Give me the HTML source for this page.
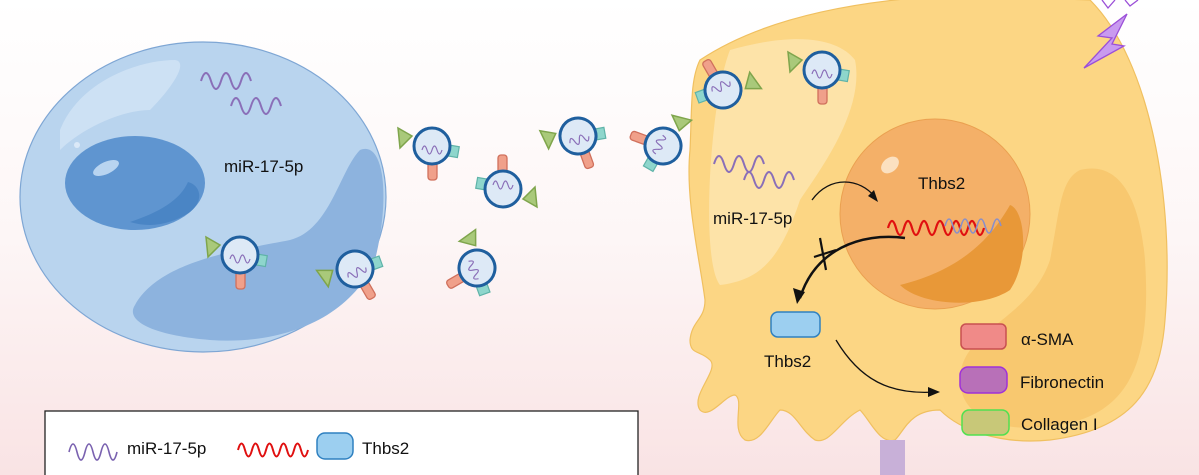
<!DOCTYPE html>
<html><head><meta charset="utf-8"><style>
html,body{margin:0;padding:0}
body{width:1199px;height:475px;overflow:hidden;background:linear-gradient(#ffffff 0%,#fdf6f6 50%,#f9e3e4 100%);font-family:"Liberation Sans",sans-serif}
svg{display:block}
text{font-family:"Liberation Sans",sans-serif;fill:#111}
</style></head><body>
<svg width="1199" height="475" viewBox="0 0 1199 475">
<defs>
<symbol id="ves" viewBox="-35 -35 70 70" overflow="visible">
<path d="M-20,-10 L-34,-18 L-32,2 Z" fill="#a9c97a" stroke="#7fa54c" stroke-width="1.5"/>
<rect x="15" y="-4" width="12" height="11" fill="#8ed6cc" stroke="#5fb3a8" stroke-width="1.2" transform="rotate(10)"/>
<rect x="-4" y="14" width="9" height="20" rx="3" fill="#f0a08a" stroke="#d0705c" stroke-width="1.3"/>
<circle r="18" fill="#dde9f6" stroke="#1f5f9e" stroke-width="3"/>
<path d="M-10,4 q2.5,-8 5,0 t5,0 t5,0 t5,0" fill="none" stroke="#8a6fb8" stroke-width="1.2"/>
</symbol>
</defs>
<!-- Left cell -->
<ellipse cx="203" cy="197" rx="183" ry="155" fill="#b9d4ee" stroke="#7ea6d4" stroke-width="1.2"/>
<path d="M135,305 C160,260 240,250 290,240 C330,230 340,170 360,150 C385,140 390,200 375,260 C350,320 280,345 210,340 C150,335 125,320 135,305 Z" fill="#8db3de"/>
<path d="M60,130 C80,80 140,60 175,60 C190,62 170,90 150,110 C120,110 80,130 60,150 Z" fill="#d2e3f5" opacity="0.8"/>
<ellipse cx="135" cy="183" rx="70" ry="47" fill="#5f95d0"/>
<path d="M130,222 C160,212 180,200 188,182 C200,185 205,200 190,212 C170,225 150,228 130,222 Z" fill="#4a85c5"/>
<ellipse cx="106" cy="168" rx="14" ry="6" transform="rotate(-25 106 168)" fill="#b8d4f0"/>
<circle cx="77" cy="145" r="3" fill="#dbe9f8"/>
<path d="M201,81 q5,-16 10,0 t10,0 t10,0 t10,0 t10,0" fill="none" stroke="#8a6fb8" stroke-width="2"/>
<path d="M231,106 q5,-16 10,0 t10,0 t10,0 t10,0 t10,0" fill="none" stroke="#8a6fb8" stroke-width="2"/>
<text x="224" y="172" font-size="17">miR-17-5p</text>
<!-- Yellow cell -->
<path d="M700,60 C760,20 850,0 960,-5 L1090,0 C1150,60 1175,200 1165,320 C1160,390 1130,430 1050,440 C1000,445 960,430 940,410 C910,410 905,430 895,440 C880,445 870,420 860,410 C840,420 830,445 815,440 C800,430 795,410 780,410 C770,420 760,445 745,440 C730,430 745,400 735,395 C725,395 710,420 700,410 C690,395 720,370 710,360 C700,350 690,355 690,340 C692,320 705,320 705,300 C700,260 685,200 690,150 C692,110 690,80 700,60 Z" fill="#fcd684" stroke="#f0c060" stroke-width="1.2"/>
<path d="M880,440 L905,440 L905,475 L880,475 Z" fill="#c8b0d8"/>
<path d="M730,50 C800,30 840,40 855,60 C865,110 820,170 800,200 C780,260 760,280 720,285 C700,260 710,100 730,50 Z" fill="#fde8b8" opacity="0.7"/>
<path d="M1080,170 C1120,160 1140,200 1145,260 C1150,340 1140,400 1080,420 C1010,440 960,420 960,380 C960,330 1030,320 1050,260 C1060,210 1060,180 1080,170 Z" fill="#f6c46a" opacity="0.8"/>
<circle cx="935" cy="214" r="95" fill="#f4b068" stroke="#eaa050" stroke-width="1"/>
<path d="M900,285 C960,270 990,240 1010,205 C1025,210 1030,260 1010,290 C980,310 920,305 900,285 Z" fill="#e89838"/>
<ellipse cx="890" cy="165" rx="10" ry="7" transform="rotate(-40 890 165)" fill="#fbe0c0"/>
<path d="M1084,68 L1112,38 L1098,36 L1127,14 L1112,44 L1124,46 Z" fill="#c99af0" stroke="#9b4fd8" stroke-width="1.3"/>
<path d="M1102,0 L1108,8 L1115,0 M1125,0 L1130,6 L1138,0" fill="none" stroke="#9b4fd8" stroke-width="1.3"/>
<path d="M714,164 q5,-16 10,0 t10,0 t10,0 t10,0 t10,0" fill="none" stroke="#8a6fb8" stroke-width="2"/>
<path d="M744,180 q5,-16 10,0 t10,0 t10,0 t10,0 t10,0" fill="none" stroke="#8a6fb8" stroke-width="2"/>
<text x="713" y="224" font-size="17">miR-17-5p</text>
<text x="918" y="189" font-size="17">Thbs2</text>
<path d="M888,228 q4,-14 8,0 t8,0 t8,0 t8,0 t8,0 t8,0 t8,0 t8,0 t8,0 t8,0 t8,0 t8,0" fill="none" stroke="#e01010" stroke-width="2.2"/>
<path d="M945,226 q4,-14 8,0 t8,0 t8,0 t8,0 t8,0 t8,0 t8,0" fill="none" stroke="#8a8fc8" stroke-width="1.6"/>
<path d="M812,200 C830,175 860,178 875,197" fill="none" stroke="#111" stroke-width="1.3"/>
<path d="M878,202 L868,196 L874,190 Z" fill="#111"/>
<path d="M905,238 C860,232 815,250 800,298" fill="none" stroke="#111" stroke-width="2.5"/>
<path d="M797,304 L793,288 L805,292 Z" fill="#111"/>
<path d="M820,238 L826,270 M814,257 L836,250" stroke="#111" stroke-width="2.2"/>
<rect x="771" y="312" width="49" height="25" rx="7" fill="#9ccff0" stroke="#2e80c0" stroke-width="1.5"/>
<text x="764" y="367" font-size="17">Thbs2</text>
<path d="M836,340 C860,380 890,395 935,392" fill="none" stroke="#111" stroke-width="1.3"/>
<path d="M940,392 L928,387 L928,397 Z" fill="#111"/>
<rect x="961" y="324" width="45" height="25" rx="5" fill="#f08a88" stroke="#c85050" stroke-width="1.5"/>
<text x="1021" y="345" font-size="17">α-SMA</text>
<rect x="960" y="367" width="47" height="26" rx="8" fill="#b870b8" stroke="#a030d8" stroke-width="1.5"/>
<text x="1020" y="388" font-size="17">Fibronectin</text>
<rect x="962" y="410" width="47" height="25" rx="7" fill="#c8c878" stroke="#50e050" stroke-width="1.5"/>
<text x="1021" y="430" font-size="17">Collagen I</text>
<!-- Vesicles -->
<use href="#ves" x="205" y="220" width="70" height="70"/>
<g transform="translate(355,269) rotate(-30)"><use href="#ves" x="-35" y="-35" width="70" height="70"/></g>
<g transform="translate(432,146) rotate(0)"><use href="#ves" x="-35" y="-35" width="70" height="70"/></g>
<g transform="translate(503,189) rotate(180)"><use href="#ves" x="-35" y="-35" width="70" height="70"/></g>
<g transform="translate(578,136) rotate(-20)"><use href="#ves" x="-35" y="-35" width="70" height="70"/></g>
<g transform="translate(477,268) rotate(60)"><use href="#ves" x="-35" y="-35" width="70" height="70"/></g>
<g transform="translate(663,146) rotate(110)"><use href="#ves" x="-35" y="-35" width="70" height="70"/></g>
<g transform="translate(723,90) rotate(150)"><use href="#ves" x="-35" y="-35" width="70" height="70"/></g>
<g transform="translate(822,70)"><use href="#ves" x="-35" y="-35" width="70" height="70"/></g>
<!-- Legend -->
<rect x="45" y="411" width="593" height="70" fill="#fff" stroke="#222" stroke-width="1.3"/>
<path d="M69,452 q4,-16 8,0 t8,0 t8,0 t8,0 t8,0 t8,0" fill="none" stroke="#7a62b0" stroke-width="1.6"/>
<text x="127" y="454" font-size="17">miR-17-5p</text>
<path d="M238,450 q3.5,-13 7,0 t7,0 t7,0 t7,0 t7,0 t7,0 t7,0 t7,0 t7,0 t7,0" fill="none" stroke="#e01010" stroke-width="2"/>
<rect x="317" y="433" width="36" height="26" rx="8" fill="#9ccff0" stroke="#2e80c0" stroke-width="1.5"/>
<text x="362" y="454" font-size="17">Thbs2</text>
</svg>
</body></html>
